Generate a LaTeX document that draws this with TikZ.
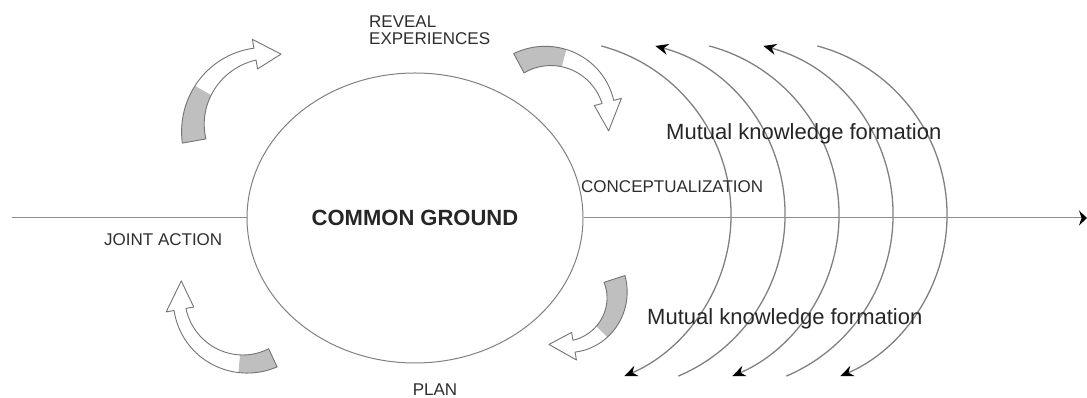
\documentclass[tikz,border=0pt]{standalone}
\usepackage{fontspec}
\setmainfont{Liberation Sans}
\usetikzlibrary{arrows.meta, shapes.geometric, calc}

\tikzset{
  lbl/.style={font=\fontsize{17}{17}\selectfont, text=black!82, inner sep=0pt},
  mutual/.style={font=\fontsize{22}{22}\selectfont, text=black!85, inner sep=0pt},
  wave/.style={draw=black!50, line width=1.3pt},
  axisline/.style={draw=black!45, line width=1pt},
  bandline/.style={draw=black!55, line width=0.9pt, line join=round},
  tailfill/.style={fill=black!25},
}

% curved block arrow: centre, radius, tail angle, grey end, band end, tip angle,
% tail half width, end half width, head half width
\newcommand{\bendarrow}[9]{%
  \begin{scope}[shift={(#1)}]
    \fill[tailfill] plot[domain=#3:#4, samples=25] ({(#2+#7+(#8-#7)*(\x-(#3))/(#5-(#3)))*cos(\x)}, {(#2+#7+(#8-#7)*(\x-(#3))/(#5-(#3)))*sin(\x)})
      -- plot[domain=#4:#3, samples=25] ({(#2-#7-(#8-#7)*(\x-(#3))/(#5-(#3)))*cos(\x)}, {(#2-#7-(#8-#7)*(\x-(#3))/(#5-(#3)))*sin(\x)}) -- cycle;
    \draw[bandline] plot[domain=#3:#5, samples=40] ({(#2+#7+(#8-#7)*(\x-(#3))/(#5-(#3)))*cos(\x)}, {(#2+#7+(#8-#7)*(\x-(#3))/(#5-(#3)))*sin(\x)})
      -- ({#5}:{#2+#9}) -- ({#6}:{#2}) -- ({#5}:{#2-#9})
      -- plot[domain=#5:#3, samples=40] ({(#2-#7-(#8-#7)*(\x-(#3))/(#5-(#3)))*cos(\x)}, {(#2-#7-(#8-#7)*(\x-(#3))/(#5-(#3)))*sin(\x)}) -- cycle;
  \end{scope}}

\begin{document}
\begin{tikzpicture}[x=1pt, y=1pt]
\useasboundingbox (0,0) rectangle (1087,398);

% waves of mutual knowledge
\foreach \k in {0,...,4} \coordinate (w\k) at (556+54*\k,183);
\foreach \k in {0,2,4}
  \draw[wave, -{Stealth[length=13pt, width=11pt, color=black]}] ($(w\k)+(75:175)$) arc[start angle=75, end angle=-67, radius=175];
\foreach \k in {1,3}
  \draw[wave, {Stealth[length=13pt, width=11pt, color=black]}-] ($(w\k)+(75:175)$) arc[start angle=75, end angle=-67, radius=175];

% common ground
\node[draw=black!50, line width=1pt, ellipse, minimum width=336pt, minimum height=290pt, inner sep=0pt,
      font=\fontsize{22}{22}\selectfont\bfseries, text=black!85] (cg) at (415,180) {COMMON GROUND};

% time axis
\coordinate (axisL) at (12,180);
\coordinate (axisR) at (1087,180);
\draw[axisline] (axisL) -- (cg.west);
\draw[axisline, -{Stealth[length=8pt, width=15pt, color=black]}] (cg.east) -- (axisR);

% phase labels
\node[lbl, align=left, anchor=west] (reveal) at (369,368) {REVEAL\\EXPERIENCES};
\node[lbl, anchor=west] (concept) at (581,211) {CONCEPTUALIZATION};
\node[lbl, anchor=west] (joint) at (104,158) {JOINT ACTION};
\node[lbl] (plan) at (435,8) {PLAN};

\node[mutual, anchor=base west] (mutualtop) at (666,258) {Mutual knowledge formation};
\node[mutual, anchor=base west] (mutualbot) at (647,73) {Mutual knowledge formation};

% cycle arrows
\bendarrow{268,270}{75}{190}{150}{100}{80}{12}{6}{15}
\bendarrow{548,280}{62}{118}{75}{15}{-12}{11}{6}{14}
\bendarrow{565,103}{52}{18}{-45}{-80}{-108}{11}{6}{14}
\bendarrow{245,100}{66}{-65}{-95}{-170}{-195}{10}{6}{14}

\end{tikzpicture}
\end{document}
